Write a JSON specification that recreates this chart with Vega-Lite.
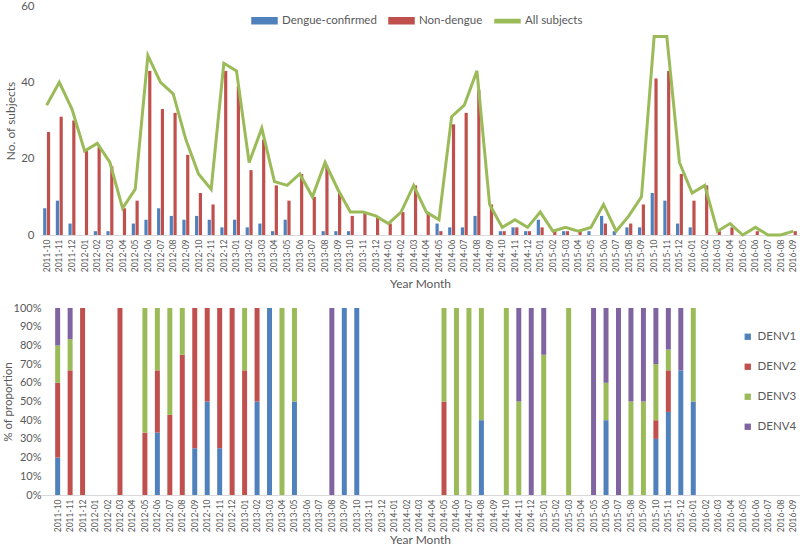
{
  "$schema": "https://vega.github.io/schema/vega-lite/v6.json",
  "padding": {"left": 2, "top": 0, "right": 0, "bottom": 0},
  "background": "white",
  "config": {
    "font": "Lato",
    "view": {"stroke": null},
    "axis": {"labelColor": "#595959", "titleColor": "#595959", "titleFontWeight": "normal", "domainColor": "#d9d9d9", "tickColor": "#d9d9d9", "grid": false, "labelFont": "Lato", "titleFont": "Lato"},
    "legend": {"labelColor": "#595959", "labelFont": "Lato"}
  },
  "datasets": {
    "top": [
      {"month": "2011-10", "Dengue-confirmed": 7, "Non-dengue": 27, "All subjects": 34},
      {"month": "2011-11", "Dengue-confirmed": 9, "Non-dengue": 31, "All subjects": 40},
      {"month": "2011-12", "Dengue-confirmed": 3, "Non-dengue": 30, "All subjects": 33},
      {"month": "2012-01", "Dengue-confirmed": 0, "Non-dengue": 22, "All subjects": 22},
      {"month": "2012-02", "Dengue-confirmed": 1, "Non-dengue": 23, "All subjects": 24},
      {"month": "2012-03", "Dengue-confirmed": 1, "Non-dengue": 18, "All subjects": 19},
      {"month": "2012-04", "Dengue-confirmed": 0, "Non-dengue": 7, "All subjects": 7},
      {"month": "2012-05", "Dengue-confirmed": 3, "Non-dengue": 9, "All subjects": 12},
      {"month": "2012-06", "Dengue-confirmed": 4, "Non-dengue": 43, "All subjects": 47},
      {"month": "2012-07", "Dengue-confirmed": 7, "Non-dengue": 33, "All subjects": 40},
      {"month": "2012-08", "Dengue-confirmed": 5, "Non-dengue": 32, "All subjects": 37},
      {"month": "2012-09", "Dengue-confirmed": 4, "Non-dengue": 21, "All subjects": 25},
      {"month": "2012-10", "Dengue-confirmed": 5, "Non-dengue": 11, "All subjects": 16},
      {"month": "2012-11", "Dengue-confirmed": 4, "Non-dengue": 8, "All subjects": 12},
      {"month": "2012-12", "Dengue-confirmed": 2, "Non-dengue": 43, "All subjects": 45},
      {"month": "2013-01", "Dengue-confirmed": 4, "Non-dengue": 39, "All subjects": 43},
      {"month": "2013-02", "Dengue-confirmed": 2, "Non-dengue": 17, "All subjects": 19},
      {"month": "2013-03", "Dengue-confirmed": 3, "Non-dengue": 25, "All subjects": 28},
      {"month": "2013-04", "Dengue-confirmed": 1, "Non-dengue": 13, "All subjects": 14},
      {"month": "2013-05", "Dengue-confirmed": 4, "Non-dengue": 9, "All subjects": 13},
      {"month": "2013-06", "Dengue-confirmed": 0, "Non-dengue": 16, "All subjects": 16},
      {"month": "2013-07", "Dengue-confirmed": 0, "Non-dengue": 10, "All subjects": 10},
      {"month": "2013-08", "Dengue-confirmed": 1, "Non-dengue": 18, "All subjects": 19},
      {"month": "2013-09", "Dengue-confirmed": 1, "Non-dengue": 11, "All subjects": 12},
      {"month": "2013-10", "Dengue-confirmed": 1, "Non-dengue": 5, "All subjects": 6},
      {"month": "2013-11", "Dengue-confirmed": 0, "Non-dengue": 6, "All subjects": 6},
      {"month": "2013-12", "Dengue-confirmed": 0, "Non-dengue": 5, "All subjects": 5},
      {"month": "2014-01", "Dengue-confirmed": 0, "Non-dengue": 3, "All subjects": 3},
      {"month": "2014-02", "Dengue-confirmed": 0, "Non-dengue": 6, "All subjects": 6},
      {"month": "2014-03", "Dengue-confirmed": 0, "Non-dengue": 13, "All subjects": 13},
      {"month": "2014-04", "Dengue-confirmed": 0, "Non-dengue": 6, "All subjects": 6},
      {"month": "2014-05", "Dengue-confirmed": 3, "Non-dengue": 1, "All subjects": 4},
      {"month": "2014-06", "Dengue-confirmed": 2, "Non-dengue": 29, "All subjects": 31},
      {"month": "2014-07", "Dengue-confirmed": 2, "Non-dengue": 32, "All subjects": 34},
      {"month": "2014-08", "Dengue-confirmed": 5, "Non-dengue": 38, "All subjects": 43},
      {"month": "2014-09", "Dengue-confirmed": 0, "Non-dengue": 8, "All subjects": 8},
      {"month": "2014-10", "Dengue-confirmed": 1, "Non-dengue": 1, "All subjects": 2},
      {"month": "2014-11", "Dengue-confirmed": 2, "Non-dengue": 2, "All subjects": 4},
      {"month": "2014-12", "Dengue-confirmed": 1, "Non-dengue": 1, "All subjects": 2},
      {"month": "2015-01", "Dengue-confirmed": 4, "Non-dengue": 2, "All subjects": 6},
      {"month": "2015-02", "Dengue-confirmed": 0, "Non-dengue": 1, "All subjects": 1},
      {"month": "2015-03", "Dengue-confirmed": 1, "Non-dengue": 1, "All subjects": 2},
      {"month": "2015-04", "Dengue-confirmed": 0, "Non-dengue": 1, "All subjects": 1},
      {"month": "2015-05", "Dengue-confirmed": 1, "Non-dengue": 0, "All subjects": 2},
      {"month": "2015-06", "Dengue-confirmed": 5, "Non-dengue": 3, "All subjects": 8},
      {"month": "2015-07", "Dengue-confirmed": 1, "Non-dengue": 0, "All subjects": 1},
      {"month": "2015-08", "Dengue-confirmed": 2, "Non-dengue": 3, "All subjects": 5},
      {"month": "2015-09", "Dengue-confirmed": 2, "Non-dengue": 8, "All subjects": 10},
      {"month": "2015-10", "Dengue-confirmed": 11, "Non-dengue": 41, "All subjects": 52},
      {"month": "2015-11", "Dengue-confirmed": 9, "Non-dengue": 43, "All subjects": 52},
      {"month": "2015-12", "Dengue-confirmed": 3, "Non-dengue": 16, "All subjects": 19},
      {"month": "2016-01", "Dengue-confirmed": 2, "Non-dengue": 9, "All subjects": 11},
      {"month": "2016-02", "Dengue-confirmed": 0, "Non-dengue": 13, "All subjects": 13},
      {"month": "2016-03", "Dengue-confirmed": 0, "Non-dengue": 1, "All subjects": 1},
      {"month": "2016-04", "Dengue-confirmed": 0, "Non-dengue": 2, "All subjects": 3},
      {"month": "2016-05", "Dengue-confirmed": 0, "Non-dengue": 0, "All subjects": 0},
      {"month": "2016-06", "Dengue-confirmed": 0, "Non-dengue": 1, "All subjects": 2},
      {"month": "2016-07", "Dengue-confirmed": 0, "Non-dengue": 0, "All subjects": 0},
      {"month": "2016-08", "Dengue-confirmed": 0, "Non-dengue": 0, "All subjects": 0},
      {"month": "2016-09", "Dengue-confirmed": 0, "Non-dengue": 1, "All subjects": 1}
    ],
    "bottom": [
      {"month": "2011-10", "serotype": "DENV1", "count": 1},
      {"month": "2011-10", "serotype": "DENV2", "count": 2},
      {"month": "2011-10", "serotype": "DENV3", "count": 1},
      {"month": "2011-10", "serotype": "DENV4", "count": 1},
      {"month": "2011-11", "serotype": "DENV2", "count": 4},
      {"month": "2011-11", "serotype": "DENV3", "count": 1},
      {"month": "2011-11", "serotype": "DENV4", "count": 1},
      {"month": "2011-12", "serotype": "DENV2", "count": 1},
      {"month": "2012-03", "serotype": "DENV2", "count": 1},
      {"month": "2012-05", "serotype": "DENV2", "count": 1},
      {"month": "2012-05", "serotype": "DENV3", "count": 2},
      {"month": "2012-06", "serotype": "DENV1", "count": 1},
      {"month": "2012-06", "serotype": "DENV2", "count": 1},
      {"month": "2012-06", "serotype": "DENV3", "count": 1},
      {"month": "2012-07", "serotype": "DENV2", "count": 3},
      {"month": "2012-07", "serotype": "DENV3", "count": 4},
      {"month": "2012-08", "serotype": "DENV2", "count": 3},
      {"month": "2012-08", "serotype": "DENV3", "count": 1},
      {"month": "2012-09", "serotype": "DENV1", "count": 1},
      {"month": "2012-09", "serotype": "DENV2", "count": 3},
      {"month": "2012-10", "serotype": "DENV1", "count": 1},
      {"month": "2012-10", "serotype": "DENV2", "count": 1},
      {"month": "2012-11", "serotype": "DENV1", "count": 1},
      {"month": "2012-11", "serotype": "DENV2", "count": 3},
      {"month": "2012-12", "serotype": "DENV2", "count": 1},
      {"month": "2013-01", "serotype": "DENV2", "count": 2},
      {"month": "2013-01", "serotype": "DENV3", "count": 1},
      {"month": "2013-02", "serotype": "DENV1", "count": 1},
      {"month": "2013-02", "serotype": "DENV2", "count": 1},
      {"month": "2013-03", "serotype": "DENV1", "count": 1},
      {"month": "2013-04", "serotype": "DENV3", "count": 1},
      {"month": "2013-05", "serotype": "DENV1", "count": 1},
      {"month": "2013-05", "serotype": "DENV3", "count": 1},
      {"month": "2013-08", "serotype": "DENV4", "count": 1},
      {"month": "2013-09", "serotype": "DENV1", "count": 1},
      {"month": "2013-10", "serotype": "DENV1", "count": 1},
      {"month": "2014-05", "serotype": "DENV2", "count": 1},
      {"month": "2014-05", "serotype": "DENV3", "count": 1},
      {"month": "2014-06", "serotype": "DENV3", "count": 1},
      {"month": "2014-07", "serotype": "DENV3", "count": 1},
      {"month": "2014-08", "serotype": "DENV1", "count": 2},
      {"month": "2014-08", "serotype": "DENV3", "count": 3},
      {"month": "2014-10", "serotype": "DENV3", "count": 1},
      {"month": "2014-11", "serotype": "DENV3", "count": 1},
      {"month": "2014-11", "serotype": "DENV4", "count": 1},
      {"month": "2014-12", "serotype": "DENV4", "count": 1},
      {"month": "2015-01", "serotype": "DENV3", "count": 3},
      {"month": "2015-01", "serotype": "DENV4", "count": 1},
      {"month": "2015-03", "serotype": "DENV3", "count": 1},
      {"month": "2015-05", "serotype": "DENV4", "count": 1},
      {"month": "2015-06", "serotype": "DENV1", "count": 2},
      {"month": "2015-06", "serotype": "DENV3", "count": 1},
      {"month": "2015-06", "serotype": "DENV4", "count": 2},
      {"month": "2015-07", "serotype": "DENV4", "count": 1},
      {"month": "2015-08", "serotype": "DENV3", "count": 1},
      {"month": "2015-08", "serotype": "DENV4", "count": 1},
      {"month": "2015-09", "serotype": "DENV3", "count": 1},
      {"month": "2015-09", "serotype": "DENV4", "count": 1},
      {"month": "2015-10", "serotype": "DENV1", "count": 3},
      {"month": "2015-10", "serotype": "DENV2", "count": 1},
      {"month": "2015-10", "serotype": "DENV3", "count": 3},
      {"month": "2015-10", "serotype": "DENV4", "count": 3},
      {"month": "2015-11", "serotype": "DENV1", "count": 4},
      {"month": "2015-11", "serotype": "DENV2", "count": 2},
      {"month": "2015-11", "serotype": "DENV3", "count": 1},
      {"month": "2015-11", "serotype": "DENV4", "count": 2},
      {"month": "2015-12", "serotype": "DENV1", "count": 2},
      {"month": "2015-12", "serotype": "DENV4", "count": 1},
      {"month": "2016-01", "serotype": "DENV1", "count": 1},
      {"month": "2016-01", "serotype": "DENV3", "count": 1}
    ]
  },
  "resolve": {"scale": {"color": "independent"}, "legend": {"color": "independent"}},
  "columns": 1,
  "spacing": 12,
  "concat": [
    {
      "width": 760,
      "height": 229,
      "data": {"name": "top"},
      "layer": [
        {
          "transform": [{"fold": ["Dengue-confirmed", "Non-dengue"], "as": ["series", "value"]}],
          "mark": {"type": "bar"},
          "encoding": {
            "x": {"field": "month", "type": "ordinal", "scale": {"paddingInner": 0.45, "paddingOuter": 0.25},
                  "axis": {"title": "Year Month", "labelAngle": -90, "labelFontSize": 8.5, "ticks": false, "labelPadding": 4, "titleFontSize": 12, "titlePadding": 7}},
            "xOffset": {"field": "series", "type": "nominal", "sort": ["Dengue-confirmed", "Non-dengue"], "scale": {"paddingInner": 0.15}},
            "y": {"field": "value", "type": "quantitative", "scale": {"domain": [0, 60]},
                  "axis": {"title": "No. of subjects", "values": [0, 10, 20, 30, 40, 50, 60], "domain": false, "ticks": false, "labelFontSize": 11.5, "labelPadding": 6, "titleFontSize": 12, "titlePadding": 3}},
            "color": {"field": "series", "type": "nominal",
                      "scale": {"domain": ["Dengue-confirmed", "Non-dengue", "All subjects"], "range": ["#4F81BD", "#C0504D", "#9BBB59"]},
                      "legend": {"orient": "none", "legendX": 211, "legendY": 1, "direction": "horizontal", "title": null,
                                 "labelFontSize": 11.5, "columnPadding": 9, "labelOffset": 4, "symbolSize": 625,
                                 "symbolType": "M-1,-0.24H1V0.24H-1Z",
                                 "encode": {"symbols": {"update": {
                                   "fill": [{"test": "datum.value === 'Dengue-confirmed'", "value": "#4F81BD"}, {"test": "datum.value === 'Non-dengue'", "value": "#C0504D"}, {"value": "#9BBB59"}],
                                   "stroke": {"value": "transparent"},
                                   "shape": [{"test": "datum.value === 'All subjects'", "value": "M-1,-0.13H1V0.13H-1Z"}, {"value": "M-1,-0.24H1V0.24H-1Z"}]
                                 }}}}}
          }
        },
        {
          "mark": {"type": "line", "strokeWidth": 3},
          "encoding": {
            "x": {"field": "month", "type": "ordinal"},
            "y": {"field": "All subjects", "type": "quantitative", "axis": {"title": "No. of subjects"}},
            "color": {"datum": "All subjects", "type": "nominal"}
          }
        }
      ]
    },
    {
      "width": 760,
      "height": 187,
      "data": {"name": "bottom"},
      "mark": {"type": "bar"},
      "encoding": {
        "x": {"field": "month", "type": "ordinal",
              "scale": {"domain": ["2011-10","2011-11","2011-12","2012-01","2012-02","2012-03","2012-04","2012-05","2012-06","2012-07","2012-08","2012-09","2012-10","2012-11","2012-12","2013-01","2013-02","2013-03","2013-04","2013-05","2013-06","2013-07","2013-08","2013-09","2013-10","2013-11","2013-12","2014-01","2014-02","2014-03","2014-04","2014-05","2014-06","2014-07","2014-08","2014-09","2014-10","2014-11","2014-12","2015-01","2015-02","2015-03","2015-04","2015-05","2015-06","2015-07","2015-08","2015-09","2015-10","2015-11","2015-12","2016-01","2016-02","2016-03","2016-04","2016-05","2016-06","2016-07","2016-08","2016-09"], "paddingInner": 0.6, "paddingOuter": 0.79, "align": 0.77},
              "axis": {"title": "Year Month", "labelAngle": -90, "labelFontSize": 8.5, "ticks": false, "labelPadding": 4, "titleFontSize": 12, "titlePadding": 3}},
        "y": {"field": "count", "type": "quantitative", "stack": "normalize", "scale": {"domain": [0, 1]},
              "axis": {"title": "% of proportion", "format": ".0%", "values": [0, 0.1, 0.2, 0.3, 0.4, 0.5, 0.6, 0.7, 0.8, 0.9, 1], "domain": false, "ticks": false, "labelFontSize": 11, "labelPadding": -1, "titleFontSize": 11.5, "titlePadding": 0}},
        "color": {"field": "serotype", "type": "nominal",
                  "scale": {"domain": ["DENV1", "DENV2", "DENV3", "DENV4"], "range": ["#4F81BD", "#C0504D", "#9BBB59", "#8064A2"]},
                  "legend": {"orient": "none", "legendX": 702, "legendY": 23, "title": null, "symbolType": "square", "symbolSize": 40, "symbolStrokeWidth": 0, "labelFontSize": 11.5, "rowPadding": 17, "labelOffset": 4}},
        "order": {"field": "serotype", "sort": "ascending"}
      }
    }
  ]
}
